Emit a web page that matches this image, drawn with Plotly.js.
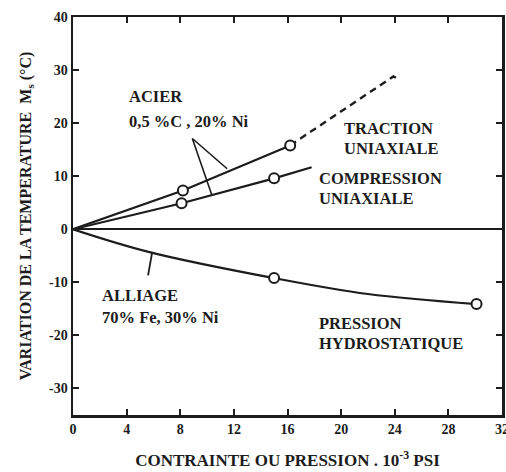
<!DOCTYPE html>
<html>
<head>
<meta charset="utf-8">
<script src="https://cdn.plot.ly/plotly-3.0.1.min.js"></script>
<style>
  html, body { margin: 0; padding: 0; background: #fff; }
  #chart { width: 506px; height: 472px; }
</style>
</head>
<body>
<div id="chart"></div>
<script>
// Ms shift vs applied stress / pressure (10^-3 psi)

// Steel 0.5 %C, 20 % Ni - uniaxial tension (measured points + extrapolation)
const tractionX = [0, 8.2, 16.2];
const tractionY = [0, 7.3, 15.8];
const tractionExtX = [16.2, 23.9, 24.4];
const tractionExtY = [15.8, 28.8, 28.1];
const tractionPtsX = [8.2, 16.2];
const tractionPtsY = [7.3, 15.8];

// Steel 0.5 %C, 20 % Ni - uniaxial compression
const compressionX = [0, 8.1, 15.0, 17.8];
const compressionY = [0, 4.9, 9.6, 11.7];
const compressionPtsX = [8.1, 15.0];
const compressionPtsY = [4.9, 9.6];

// Fe-30 % Ni alloy - hydrostatic pressure
const hydroX = [0, 5.7, 15.0, 22.0, 30.1];
const hydroY = [0, -4.3, -9.2, -12.2, -14.1];
const hydroPtsX = [15.0, 30.1];
const hydroPtsY = [-9.2, -14.1];

// leader lines for the labels
const acierLeaderX = [11.5, 8.9, 10.35];
const acierLeaderY = [11.4, 17.1, 6.5];
const alliageLeaderX = [5.6, 5.9];
const alliageLeaderY = [-8.7, -4.4];

// axes
const xTicks = [0, 4, 8, 12, 16, 20, 24, 28, 32];
const xTickText = ['0', '4', '8', '12', '16', '20', '24', '28', '32'];
const yTicks = [-30, -20, -10, 0, 10, 20, 30, 40];
const yTickText = ['-30', '-20', '-10', '0', '10', '20', '30', '40'];

const FONT = 'Liberation Serif, Times New Roman, serif';
const INK = '#1c1c1c';

const lineStyle = {color: INK, width: 2.2};
const pointStyle = {symbol: 'circle', size: 10, color: '#fff', line: {color: INK, width: 2}};

const traces = [
  {x: tractionX, y: tractionY, mode: 'lines', line: lineStyle},
  {x: tractionExtX, y: tractionExtY, mode: 'lines', line: {color: INK, width: 2.4, dash: '7px,5px'}},
  {x: compressionX, y: compressionY, mode: 'lines', line: lineStyle},
  {x: hydroX, y: hydroY, mode: 'lines', line: Object.assign({shape: 'spline', smoothing: 1}, lineStyle)},
  {x: acierLeaderX, y: acierLeaderY, mode: 'lines', line: {color: INK, width: 1.6}},
  {x: alliageLeaderX, y: alliageLeaderY, mode: 'lines', line: {color: INK, width: 1.8}},
  {x: tractionPtsX, y: tractionPtsY, mode: 'markers', marker: pointStyle},
  {x: compressionPtsX, y: compressionPtsY, mode: 'markers', marker: pointStyle},
  {x: hydroPtsX, y: hydroPtsY, mode: 'markers', marker: pointStyle}
];

const labelFont = {family: FONT, size: 16.5, color: INK, weight: 700};
function label(text, x, y) {
  return {text: text, x: x, y: y, xref: 'x', yref: 'y', xanchor: 'left', yanchor: 'middle',
          showarrow: false, font: labelFont};
}

const layout = {
  width: 506, height: 472,
  margin: {l: 73, r: 4, t: 17, b: 57},
  paper_bgcolor: '#fff', plot_bgcolor: '#fff',
  showlegend: false,
  font: {family: FONT, color: INK},
  xaxis: {
    range: [0, 32], tickvals: xTicks, ticktext: xTickText,
    ticks: 'inside', ticklen: 6, tickwidth: 2, tickcolor: INK,
    showline: true, linewidth: 2.5, linecolor: INK, mirror: 'ticks',
    showgrid: false, zeroline: false, ticklabeloverflow: 'allow',
    tickfont: {family: FONT, size: 14, color: INK, weight: 700},
    title: {text: 'CONTRAINTE OU PRESSION . 10<sup>-3</sup> PSI', standoff: 18,
            font: {family: FONT, size: 17, color: INK, weight: 700}}
  },
  yaxis: {
    range: [-35, 40], tickvals: yTicks, ticktext: yTickText,
    ticks: 'inside', ticklen: 6, tickwidth: 2, tickcolor: INK,
    showline: true, linewidth: 2.5, linecolor: INK, mirror: 'ticks',
    showgrid: false, zeroline: true, zerolinecolor: INK, zerolinewidth: 2.2,
    tickfont: {family: FONT, size: 14, color: INK, weight: 700},
    title: {text: 'VARIATION DE LA TEMPERATURE  M<sub>s</sub> (°C)', standoff: 14,
            font: {family: FONT, size: 16, color: INK, weight: 700}}
  },
  annotations: [
    label('ACIER', 4.0, 25.0),
    label('0,5 %C , 20% Ni', 4.0, 20.4),
    label('TRACTION', 20.1, 18.9),
    label('UNIAXIALE', 20.1, 15.3),
    label('COMPRESSION', 18.2, 9.5),
    label('UNIAXIALE', 18.2, 5.8),
    label('ALLIAGE', 2.0, -12.4),
    label('70% Fe, 30% Ni', 2.0, -16.6),
    label('PRESSION', 18.2, -17.7),
    label('HYDROSTATIQUE', 18.2, -21.5)
  ]
};

Plotly.newPlot('chart', traces, layout, {staticPlot: true, displayModeBar: false});
</script>
</body>
</html>
